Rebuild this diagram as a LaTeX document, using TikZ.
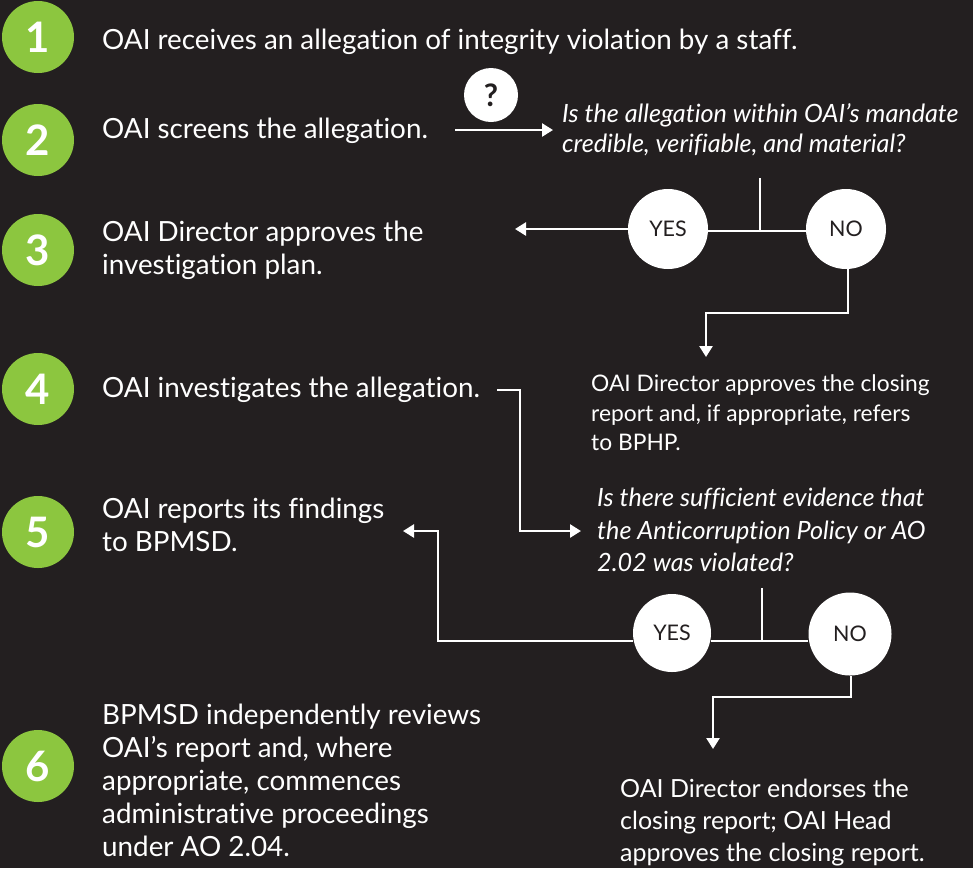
\documentclass[tikz,border=0pt]{standalone}
\usepackage{fontspec}
\setmainfont{Lato}[Ligatures=NoCommon]
\usetikzlibrary{arrows.meta}
\definecolor{bg}{HTML}{231F20}
\definecolor{grn}{HTML}{8CC63F}
\begin{document}
\begin{tikzpicture}[x=1pt,y=-1pt,
  numcirc/.style={circle,fill=grn,minimum size=72pt,inner sep=0pt,text=white,font=\fontsize{42}{42}\selectfont\bfseries},
  stepline/.style={anchor=base west,inner sep=0pt,text=white,font=\fontsize{27.8}{33}\selectfont},
  qline/.style={anchor=base west,inner sep=0pt,text=white,font=\fontsize{25.2}{30}\selectfont\itshape},
  smline/.style={anchor=base west,inner sep=0pt,text=white,font=\fontsize{22.8}{29}\selectfont},
  endline/.style={anchor=base west,inner sep=0pt,text=white,font=\fontsize{25}{30}\selectfont},
  yn/.style={circle,fill=white,inner sep=0pt,text=bg,font=\fontsize{21.5}{21.5}\selectfont},
  conn/.style={draw=white,line width=2.5pt},
  arr/.style={conn,-{Triangle[width=13pt,length=11pt]}}
]
\fill[bg] (0,0) rectangle (973,868);
\useasboundingbox (0,0) rectangle (973,868);

% numbered circles
\node[numcirc] (n1) at (38,37) {1};
\node[numcirc] (n2) at (38,140) {2};
\node[numcirc] (n3) at (38,250) {3};
\node[numcirc] (n4) at (38,389) {4};
\node[numcirc] (n5) at (38,532) {5};
\node[numcirc] (n6) at (38,766) {6};

% step texts
\node[stepline] (s1) at (102,49) {OAI receives an allegation of integrity violation by a staff.};
\node[stepline] (s2) at (102,138) {OAI screens the allegation.};
\node[stepline] (s3a) at (102,241) {OAI Director approves the};
\node[stepline] (s3b) at (102,274) {investigation plan.};
\node[stepline] (s4) at (102,397) {OAI investigates the allegation.};
\node[stepline] (s5a) at (102,518) {OAI reports its findings};
\node[stepline] (s5b) at (102,551) {to BPMSD.};
\node[stepline] (s6a) at (102,724) {BPMSD independently reviews};
\node[stepline] (s6b) at (102,757) {OAI’s report and, where};
\node[stepline] (s6c) at (102,790) {appropriate, commences};
\node[stepline] (s6d) at (102,823) {administrative proceedings};
\node[stepline] (s6e) at (102,856) {under AO 2.04.};

% question mark
\node[circle,fill=white,minimum size=54pt,inner sep=0pt,text=bg,font=\fontsize{31}{31}\selectfont\bfseries] (qm) at (491,95) {?};

% question 1
\node[qline] (q1a) at (562,122) {Is the allegation within OAI’s mandate};
\node[qline] (q1b) at (562,152) {credible, verifiable, and material?};
\coordinate (a2s) at (455,130);
\coordinate (a2e) at (553,130);
\draw[arr] (a2s) -- (a2e);

% decision 1
\node[yn,minimum size=80pt] (y1) at (668,229) {YES};
\node[yn,minimum size=80pt] (no1) at (846,229) {NO};
\coordinate (j1t) at (760,178);
\coordinate (j1b) at (760,231);
\draw[conn] (j1t) -- (j1b);
\draw[conn] (y1.east |- j1b) -- (no1.west |- j1b);
\coordinate (y1end) at (515,229);
\draw[arr] (y1.west) -- (y1end);
\coordinate (no1c) at (848,313);
\coordinate (no1d) at (706,313);
\coordinate (no1e) at (706,357);
\draw[arr] (no1.south -| no1c) -- (no1c) -- (no1d) -- (no1e);

\node[smline] (d1a) at (591,391) {OAI Director approves the closing};
\node[smline] (d1b) at (591,421) {report and, if appropriate, refers};
\node[smline] (d1c) at (591,450) {to BPHP.};

% step 4 connector
\coordinate (c4a) at (497,390);
\coordinate (c4b) at (520,390);
\coordinate (c4c) at (520,531);
\coordinate (c4d) at (581,531);
\draw[arr] (c4a) -- (c4b) -- (c4c) -- (c4d);

% question 2
\node[qline] (q2a) at (597,506) {Is there sufficient evidence that};
\node[qline] (q2b) at (597,539) {the Anticorruption Policy or AO};
\node[qline] (q2c) at (597,571) {2.02 was violated?};

% decision 2
\node[yn,minimum size=78pt] (y2) at (672,633) {YES};
\node[yn,minimum size=83pt] (no2) at (850,634) {NO};
\coordinate (j2t) at (762,588);
\coordinate (j2b) at (762,641);
\draw[conn] (j2t) -- (j2b);
\draw[conn] (y2.east |- j2b) -- (no2.west |- j2b);
\coordinate (y2a) at (438,641);
\coordinate (y2b) at (438,531);
\coordinate (y2c) at (403,531);
\draw[arr] (y2.west |- j2b) -- (y2a) -- (y2b) -- (y2c);
\coordinate (no2c) at (851,697);
\coordinate (no2d) at (713,697);
\coordinate (no2e) at (713,749);
\draw[arr] (no2.south -| no2c) -- (no2c) -- (no2d) -- (no2e);

\node[endline] (e1) at (620,797) {OAI Director endorses the};
\node[endline] (e2) at (620,829) {closing report; OAI Head};
\node[endline] (e3) at (620,861) {approves the closing report.};
\end{tikzpicture}
\end{document}
